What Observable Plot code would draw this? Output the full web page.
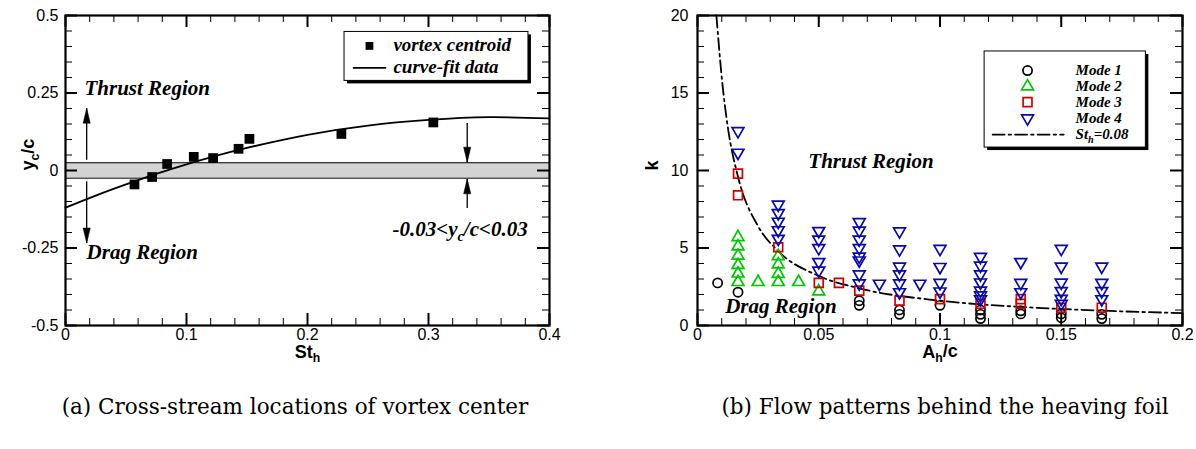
<!DOCTYPE html>
<html><head><meta charset="utf-8">
<script src="https://cdn.jsdelivr.net/npm/d3@7"></script>
<script src="https://cdn.jsdelivr.net/npm/@observablehq/plot@0.6"></script>
<style>
body{margin:0;background:#fff;}
#wrap{position:relative;width:1196px;height:449px;overflow:hidden;background:#fff}
.panel{position:absolute;top:0}
.cap{position:absolute;top:394px;font-family:"DejaVu Serif",serif;font-size:21.5px;white-space:nowrap;transform:translateX(-50%);color:#000}
</style></head><body>
<div id="wrap">
<div id="a" class="panel" style="left:0"></div>
<div id="b" class="panel" style="left:600px"></div>
<div class="cap" style="left:295px">(a) Cross-stream locations of vortex center</div>
<div class="cap" style="left:945px">(b) Flow patterns behind the heaving foil</div>
</div>
<script>
// ---------- Panel (a) data ----------
const stCentroid = [0.057, 0.0716, 0.084, 0.106, 0.122, 0.143, 0.152, 0.228, 0.304];
const ycCentroid = [-0.045, -0.021, 0.021, 0.044, 0.040, 0.070, 0.102, 0.118, 0.155];
const stFit = [0, 0.025, 0.05, 0.075, 0.1, 0.125, 0.15, 0.2, 0.25, 0.3, 0.35, 0.4];
const ycFit = [-0.120, -0.081, -0.045, -0.011, 0.020, 0.048, 0.073, 0.115, 0.145, 0.163, 0.172, 0.168];
const bandLimits = [-0.025, 0.025];
const xTicksA = [0, 0.1, 0.2, 0.3, 0.4];
const yTicksA = [-0.5, -0.25, 0, 0.25, 0.5];
const legendA = ["vortex centroid", "curve-fit data"];

// ---------- Panel (b) data ----------
const mode1A = [0.0083, 0.0167, 0.0667, 0.0667, 0.0833, 0.0833, 0.1, 0.1167, 0.1167, 0.1167, 0.1333, 0.1333, 0.15, 0.15, 0.1667, 0.1667];
const mode1K = [2.75, 2.15, 1.6, 1.3, 1.0, 0.72, 1.3, 1.0, 0.72, 0.45, 0.95, 0.75, 0.75, 0.5, 0.72, 0.45];
const mode2A = [0.0167, 0.0167, 0.0167, 0.0167, 0.0167, 0.0167, 0.025, 0.0333, 0.0333, 0.0333, 0.0333, 0.0417, 0.05];
const mode2K = [2.8, 3.35, 3.9, 4.5, 5.1, 5.7, 2.8, 2.8, 3.33, 3.94, 4.47, 2.8, 2.2];
const mode3A = [0.0167, 0.0167, 0.0333, 0.05, 0.0583, 0.0667, 0.0833, 0.1, 0.1167, 0.1333, 0.1333, 0.15, 0.1667];
const mode3K = [8.4, 9.8, 5.05, 2.75, 2.75, 2.25, 1.6, 1.7, 1.4, 1.7, 1.4, 1.15, 1.15];
const mode4A = [0.0167, 0.0167,
  0.0333, 0.0333, 0.0333, 0.0333, 0.0333,
  0.05, 0.05, 0.05, 0.05, 0.05,
  0.0667, 0.0667, 0.0667, 0.0667, 0.0667, 0.0667, 0.0667, 0.0667,
  0.075,
  0.0833, 0.0833, 0.0833, 0.0833, 0.0833, 0.0833,
  0.0917,
  0.1, 0.1, 0.1, 0.1,
  0.1167, 0.1167, 0.1167, 0.1167, 0.1167, 0.1167, 0.1167,
  0.1333, 0.1333, 0.1333,
  0.15, 0.15, 0.15, 0.15, 0.15, 0.15,
  0.1667, 0.1667, 0.1667, 0.1667];
const mode4K = [11.15, 12.55,
  5.6, 6.15, 6.7, 7.25, 7.8,
  3.55, 4.1, 5.0, 5.55, 6.1,
  2.72, 3.3, 4.2, 4.45, 5.0, 5.55, 6.13, 6.67,
  2.7,
  2.15, 2.72, 3.3, 3.8, 4.92, 6.08,
  2.7,
  2.2, 2.75, 3.78, 4.95,
  1.7, 1.95, 2.25, 2.78, 3.3, 3.87, 4.43,
  2.15, 2.75, 4.1,
  1.4, 1.72, 2.22, 2.77, 3.8, 4.95,
  1.7, 2.22, 2.75, 3.8];
const stCurveA = [0.0078, 0.01, 0.0125, 0.0167, 0.025, 0.0333, 0.05, 0.0667, 0.1, 0.1333, 0.1667, 0.2];
const stCurveK = [20, 16, 12.8, 9.6, 6.4, 4.8, 3.2, 2.4, 1.6, 1.2, 0.96, 0.8];
const xTicksB = [0, 0.05, 0.1, 0.15, 0.2];
const yTicksB = [0, 5, 10, 15, 20];
const legendB = ["Mode 1", "Mode 2", "Mode 3", "Mode 4", "St_h=0.08"];

const GREEN = "#00c800", RED = "#d40000", BLUE = "#0a0aa8";
const SERIF = "Liberation Serif, Times New Roman, serif";
const SANS = "Liberation Sans, Arial, sans-serif";

const pairs = (xs, ys) => xs.map((x, i) => ({x, y: ys[i]}));

const sqrt3 = Math.sqrt(3);
const triangleDown = {
  draw(context, size) {
    const y = -Math.sqrt(size / (sqrt3 * 3));
    context.moveTo(0, -y * 2);
    context.lineTo(-sqrt3 * y, y);
    context.lineTo(sqrt3 * y, y);
    context.closePath();
  }
};
// narrow filled arrowhead with its tip at the anchor point
const headUp = {draw(c) { c.moveTo(0, 0); c.lineTo(-3.6, 15); c.lineTo(3.6, 15); c.closePath(); }};
const headDown = {draw(c) { c.moveTo(0, 0); c.lineTo(-3.6, -15); c.lineTo(3.6, -15); c.closePath(); }};

function frameTicks(xs, ys, xDom, yDom, W, H, len, sw) {
  const dx = len / W * (xDom[1] - xDom[0]);
  const dy = len / H * (yDom[1] - yDom[0]);
  const o = {stroke: "black", strokeWidth: sw};
  return [
    Plot.ruleX(xs, {x: d => d, y1: yDom[0], y2: yDom[0] + dy, ...o}),
    Plot.ruleX(xs, {x: d => d, y1: yDom[1], y2: yDom[1] - dy, ...o}),
    Plot.ruleY(ys, {y: d => d, x1: xDom[0], x2: xDom[0] + dx, ...o}),
    Plot.ruleY(ys, {y: d => d, x1: xDom[1], x2: xDom[1] - dx, ...o})
  ];
}

function subscripts(svg) {
  svg.querySelectorAll("text").forEach(t => {
    if (t.children.length) return;
    const s = t.textContent;
    if (!s.includes("_")) return;
    const parts = s.split(/_(\w)/);
    t.textContent = "";
    const ns = "http://www.w3.org/2000/svg";
    let shifted = false;
    parts.forEach((p, i) => {
      if (!p) return;
      const ts = document.createElementNS(ns, "tspan");
      ts.textContent = p;
      if (i % 2 === 1) {
        ts.setAttribute("font-size", "68%");
        ts.setAttribute("dy", "0.35em");
        shifted = true;
      } else if (shifted) {
        ts.setAttribute("dy", "-0.24em");
        shifted = false;
      }
      t.appendChild(ts);
    });
  });
}

// ---------- Panel (a) ----------
{
  const W = 580, H = 370, mL = 65, mR = 31, mT = 15, mB = 45;
  const xDom = [0, 0.4], yDom = [-0.5, 0.5];
  const pw = W - mL - mR, ph = H - mT - mB;
  const txt = {fontFamily: SERIF, fontWeight: "bold", fontStyle: "italic", fill: "black"};
  const arrows = [
    {x1: 0.0175, y1: 0.035, x2: 0.0175, y2: 0.201, head: headUp},
    {x1: 0.0175, y1: -0.035, x2: 0.0175, y2: -0.234, head: headDown},
    {x1: 0.332, y1: 0.153, x2: 0.332, y2: 0.027, head: headDown},
    {x1: 0.332, y1: -0.121, x2: 0.332, y2: -0.027, head: headUp}
  ];
  const plot = Plot.plot({
    width: W, height: H, marginLeft: mL, marginRight: mR, marginTop: mT, marginBottom: mB,
    style: {fontFamily: SANS, fontSize: "16px", color: "black", background: "transparent", overflow: "visible"},
    x: {domain: xDom, ticks: xTicksA, tickFormat: d => String(d), tickSize: 0, tickPadding: 3, label: null},
    y: {domain: yDom, ticks: yTicksA, tickFormat: d => String(d), tickSize: 0, tickPadding: 7, label: null},
    marks: [
      Plot.rect([bandLimits], {x1: xDom[0], x2: xDom[1], y1: d => d[0], y2: d => d[1], fill: "#d3d3d3"}),
      Plot.ruleY([bandLimits[1]], {stroke: "black", strokeWidth: 1.2}),
      Plot.ruleY([bandLimits[0]], {stroke: "#555", strokeWidth: 1.6}),
      Plot.line(pairs(stFit, ycFit), {x: "x", y: "y", curve: "natural", stroke: "black", strokeWidth: 1.8}),
      Plot.dot(pairs(stCentroid, ycCentroid), {x: "x", y: "y", symbol: "square", r: 5.5, fill: "black"}),
      Plot.link(arrows, {x1: "x1", y1: "y1", x2: "x2", y2: "y2", stroke: "black", strokeWidth: 1.3}),
      Plot.dot(arrows.filter(d => d.head === headUp), {x: "x2", y: "y2", symbol: headUp, fill: "black", stroke: "black", strokeWidth: 0.5}),
      Plot.dot(arrows.filter(d => d.head === headDown), {x: "x2", y: "y2", symbol: headDown, fill: "black", stroke: "black", strokeWidth: 0.5}),
      Plot.text(["Thrust Region"], {x: 0.0157, y: 0.264, text: d => d, textAnchor: "start", fontSize: 21, ...txt}),
      Plot.text(["Drag Region"], {x: 0.0174, y: -0.264, text: d => d, textAnchor: "start", fontSize: 21, ...txt}),
      Plot.text(["-0.03<y_c/c<0.03"], {x: 0.2702, y: -0.191, text: d => d, textAnchor: "start", fontSize: 21, ...txt}),
      // legend
      Plot.rect([0], {x1: 0.2306, x2: 0.3826, y1: 0.289, y2: 0.447, fill: "black", dx: 3, dy: 3}),
      Plot.rect([0], {x1: 0.2306, x2: 0.3826, y1: 0.289, y2: 0.447, fill: "white", stroke: "black", strokeWidth: 1}),
      Plot.dot([0], {x: 0.2512, y: 0.402, symbol: "square", r: 4.4, fill: "black"}),
      Plot.line([[0.238, 0.331], [0.2645, 0.331]], {stroke: "black", strokeWidth: 1.6}),
      Plot.text([legendA[0]], {x: 0.271, y: 0.405, text: d => d, textAnchor: "start", fontSize: 19, ...txt}),
      Plot.text([legendA[1]], {x: 0.271, y: 0.333, text: d => d, textAnchor: "start", fontSize: 19, ...txt}),
      ...frameTicks(d3.range(0, 0.4001, 0.02), d3.range(-0.5, 0.5001, 0.05), xDom, yDom, pw, ph, 7, 1),
      ...frameTicks(xTicksA, yTicksA, xDom, yDom, pw, ph, 12, 2),
      Plot.frame({stroke: "black", strokeWidth: 2.2}),
      Plot.text(["St_h"], {frameAnchor: "bottom", dy: 32, text: d => d, fontWeight: "bold", fontSize: 18, fontFamily: SANS}),
      Plot.text(["y_c/c"], {frameAnchor: "left", dx: -37, rotate: -90, text: d => d, fontWeight: "bold", fontSize: 18, fontFamily: SANS})
    ]
  });
  subscripts(plot);
  document.getElementById("a").appendChild(plot);
}

// ---------- Panel (b) ----------
{
  const W = 596, H = 370, mL = 97, mR = 14, mT = 15, mB = 45;
  const xDom = [0, 0.2], yDom = [0, 20];
  const pw = W - mL - mR, ph = H - mT - mB;
  const txt = {fontFamily: SERIF, fontWeight: "bold", fontStyle: "italic", fill: "black"};
  const mk = {strokeWidth: 1.7, fill: "none"};
  const legY = [16.45, 15.42, 14.41, 13.37, 12.32];
  const plot = Plot.plot({
    width: W, height: H, marginLeft: mL, marginRight: mR, marginTop: mT, marginBottom: mB,
    style: {fontFamily: SANS, fontSize: "16px", color: "black", background: "transparent", overflow: "visible"},
    x: {domain: xDom, ticks: xTicksB, tickFormat: d => String(d), tickSize: 0, tickPadding: 3, label: null},
    y: {domain: yDom, ticks: yTicksB, tickFormat: d => String(d), tickSize: 0, tickPadding: 9, label: null},
    marks: [
      Plot.line(pairs(stCurveA, stCurveK), {x: "x", y: "y", curve: "monotone-x", stroke: "black", strokeWidth: 1.8, strokeDasharray: "12,4,2.5,4"}),
      Plot.dot(pairs(mode1A, mode1K), {x: "x", y: "y", symbol: "circle", r: 4.6, stroke: "black", ...mk}),
      Plot.dot(pairs(mode2A, mode2K), {x: "x", y: "y", symbol: "triangle", r: 4.4, stroke: GREEN, ...mk}),
      Plot.dot(pairs(mode3A, mode3K), {x: "x", y: "y", symbol: "square", r: 5.0, stroke: RED, ...mk}),
      Plot.dot(pairs(mode4A, mode4K), {x: "x", y: "y", symbol: triangleDown, r: 4.4, stroke: BLUE, ...mk}),
      Plot.text(["Thrust Region"], {x: 0.0457, y: 10.6, text: d => d, textAnchor: "start", fontSize: 21, ...txt}),
      Plot.text(["Drag Region"], {x: 0.0114, y: 1.25, text: d => d, textAnchor: "start", fontSize: 21, ...txt}),
      // legend
      Plot.rect([0], {x1: 0.1184, x2: 0.1849, y1: 11.48, y2: 17.68, fill: "black", dx: 3, dy: 3}),
      Plot.rect([0], {x1: 0.1184, x2: 0.1849, y1: 11.48, y2: 17.68, fill: "white", stroke: "black", strokeWidth: 1}),
      Plot.dot([0], {x: 0.1361, y: legY[0], symbol: "circle", r: 4.6, stroke: "black", ...mk}),
      Plot.dot([0], {x: 0.1361, y: legY[1], symbol: "triangle", r: 4.4, stroke: GREEN, ...mk}),
      Plot.dot([0], {x: 0.1361, y: legY[2], symbol: "square", r: 5.0, stroke: RED, ...mk}),
      Plot.dot([0], {x: 0.1361, y: legY[3], symbol: triangleDown, r: 4.4, stroke: BLUE, ...mk}),
      Plot.line([[0.1217, legY[4]], [0.1510, legY[4]]], {stroke: "black", strokeWidth: 1.8, strokeDasharray: "12,4,2.5,4"}),
      Plot.text(legendB, {x: 0.1559, y: (d, i) => legY[i], text: d => d, textAnchor: "start", fontSize: 15, ...txt}),
      ...frameTicks(d3.range(0, 0.2001, 0.01), d3.range(0, 20.01, 1), xDom, yDom, pw, ph, 7, 1),
      ...frameTicks(xTicksB, yTicksB, xDom, yDom, pw, ph, 12, 2),
      Plot.frame({stroke: "black", strokeWidth: 2.2}),
      Plot.text(["A_h/c"], {frameAnchor: "bottom", dy: 32, text: d => d, fontWeight: "bold", fontSize: 18, fontFamily: SANS}),
      Plot.text(["k"], {frameAnchor: "left", dx: -45, rotate: -90, text: d => d, fontWeight: "bold", fontSize: 18, fontFamily: SANS})
    ]
  });
  subscripts(plot);
  document.getElementById("b").appendChild(plot);
}
</script>
</body></html>
